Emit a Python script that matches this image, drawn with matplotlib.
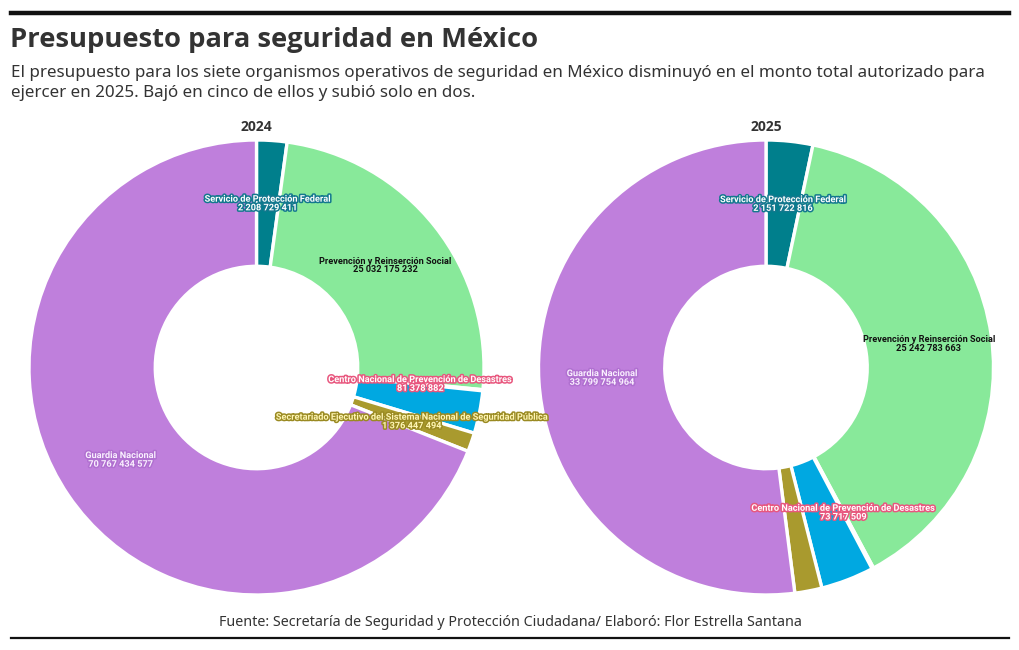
import matplotlib
matplotlib.use("Agg")
import matplotlib.pyplot as plt
import matplotlib.patheffects as pe
import numpy as np

# ---------------- data ----------------
organismos = [
    "Servicio de Protección Federal",
    "Prevención y Reinserción Social",
    "Centro Nacional de Prevención de Desastres",
    "Centro Nacional de Inteligencia",
    "Secretariado Ejecutivo del Sistema Nacional de Seguridad Pública",
    "Guardia Nacional",
]
valores_2024 = [2208729411, 25032175232, 81378882, 3100000000, 1376447494, 70767434577]
valores_2025 = [2151722816, 25242783663, 73717509, 2450000000, 1250000000, 33799754964]
etiquetas_2024 = [True, True, True, False, True, True]
etiquetas_2025 = [True, True, True, False, False, True]
anios = ["2024", "2025"]

colores = ["#007F8C", "#88E99A", "#E8577E", "#00A8E1", "#A99A2E", "#BF7FDC"]
# (text colour, halo colour)
estilos_texto = [
    ("white", "#13788E"),
    ("#111111", None),
    ("white", "#E8577E"),
    ("white", "#0088B8"),
    ("#FFF6B5", "#9A8A22"),
    ("#FAF0FF", "#B070D0"),
]

titulo = "Presupuesto para seguridad en México"
subtitulo = ("El presupuesto para los siete organismos operativos de seguridad en México disminuyó en el monto total autorizado para\n"
             "ejercer en 2025. Bajó en cinco de ellos y subió solo en dos.")
fuente = "Fuente: Secretaría de Seguridad y Protección Ciudadana/ Elaboró: Flor Estrella Santana"

# ---------------- figure ----------------
W, H = 1020, 650
fig = plt.figure(figsize=(W / 100, H / 100), dpi=100)
fig.patch.set_facecolor("white")

base_font = ["Noto Sans", "DejaVu Sans"]
bold_font = ["Open Sans", "DejaVu Sans"]
label_font = ["Liberation Sans Narrow", "Roboto", "DejaVu Sans"]

def px(x, y):
    return x / W, 1 - y / H

# rules
fig.add_artist(plt.Line2D([11 / W, 1009 / W], [1 - 13 / H] * 2, color="#111111", lw=3.2))
fig.add_artist(plt.Line2D([11 / W, 1009 / W], [1 - 638 / H] * 2, color="#111111", lw=1.6))

fig.text(*px(10, 40), titulo, fontsize=19.7, fontweight="bold", color="#333333",
         family=bold_font, va="center", ha="left")
fig.text(*px(11, 83), subtitulo, fontsize=12.25, color="#333333", family=base_font,
         va="center", ha="left", linespacing=1.38)
fig.text(*px(510, 622), fuente, fontsize=10.3, color="#333333", family=base_font,
         va="center", ha="center")

centros = [(256.5, 367.5), (766, 367.5)]
R = 227.5

def number_fmt(v):
    return f"{v:,}".replace(",", " ")

for k, (anio, valores, etiquetas, (cx, cy)) in enumerate(zip(anios, [valores_2024, valores_2025],
                                             [etiquetas_2024, etiquetas_2025], centros)):
    ax = fig.add_axes([(cx - R) / W, 1 - (cy + R) / H, 2 * R / W, 2 * R / H])
    ax.set_zorder(5 - k)
    wedges, _ = ax.pie(valores, colors=colores, startangle=90, counterclock=False,
                       radius=1.0,
                       wedgeprops=dict(width=0.555, edgecolor="white", linewidth=2.4,
                                       joinstyle="round"))
    ax.set_xlim(-1.0, 1.0)
    ax.set_ylim(-1.0, 1.0)
    ax.set_aspect("equal")
    ax.axis("off")
    fig.text(cx / W, 1 - 127 / H, anio, fontsize=10, fontweight="bold", color="#333333",
             family=bold_font, ha="center", va="center")
    rmid = (1.0 + 0.445) / 2
    for i, w in enumerate(wedges):
        if not etiquetas[i]:
            continue
        ang = np.deg2rad((w.theta1 + w.theta2) / 2)
        x, y = rmid * np.cos(ang), rmid * np.sin(ang)
        tc, hc = estilos_texto[i]
        effects = [pe.withStroke(linewidth=2.2, foreground=hc)] if hc else []
        ax.text(x, y, f"{organismos[i]}\n{number_fmt(valores[i])}", ha="center", va="center",
                fontsize=6.6, fontweight="bold", color=tc, family=label_font,
                linespacing=0.95, path_effects=effects, zorder=5, clip_on=False)

fig.savefig("out.png", dpi=100, facecolor="white")
